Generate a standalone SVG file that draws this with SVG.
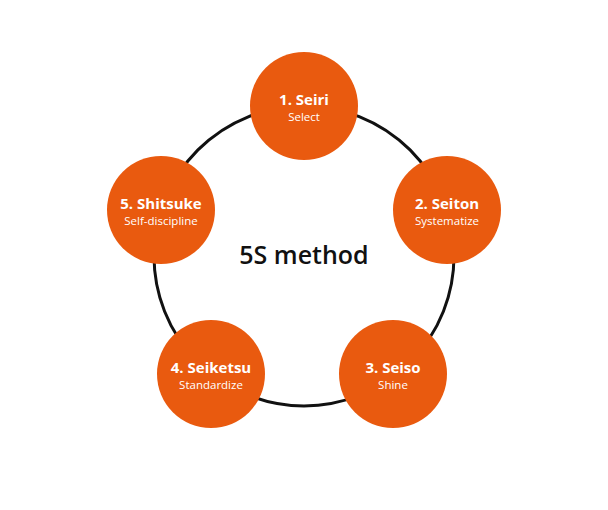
<svg xmlns="http://www.w3.org/2000/svg" width="608" height="510" viewBox="0 0 608 510">
<style>
.n{fill:#E95A0F}
.t{font-family:"Open Sans","Liberation Sans",sans-serif;fill:#fff;text-anchor:middle;font-weight:700;font-size:15px}
.s{font-family:"Open Sans","Liberation Sans",sans-serif;fill:#fff;text-anchor:middle;font-size:11.5px}
</style>
<rect width="608" height="510" fill="#fff"/>
<g id="connectors"><circle cx="304" cy="256" r="150" fill="none" stroke="#111" stroke-width="3"/></g>
<text x="304" y="264" font-family="Open Sans,Liberation Sans,sans-serif" font-size="25" font-weight="600" text-anchor="middle" fill="#111">5S method</text>
<g id="n1"><circle class="n" cx="304" cy="106" r="54"/><text class="t" x="304" y="105">1. Seiri</text><text class="s" x="304" y="121">Select</text></g>
<g id="n2"><circle class="n" cx="447" cy="210" r="54"/><text class="t" x="447" y="209">2. Seiton</text><text class="s" x="447" y="225">Systematize</text></g>
<g id="n3"><circle class="n" cx="393" cy="374" r="54"/><text class="t" x="393" y="373">3. Seiso</text><text class="s" x="393" y="389">Shine</text></g>
<g id="n4"><circle class="n" cx="211" cy="374" r="54"/><text class="t" x="211" y="373">4. Seiketsu</text><text class="s" x="211" y="389">Standardize</text></g>
<g id="n5"><circle class="n" cx="161" cy="210" r="54"/><text class="t" x="161" y="209">5. Shitsuke</text><text class="s" x="161" y="225">Self-discipline</text></g>
</svg>
